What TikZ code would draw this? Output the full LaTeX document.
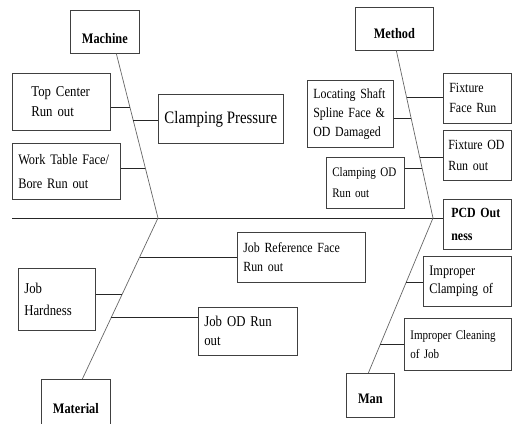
\documentclass[tikz,border=0pt]{standalone}
\usepackage{fontspec}
\setmainfont{Liberation Serif}[FakeStretch=0.85]
\usetikzlibrary{calc}

\begin{document}
\begin{tikzpicture}[
  x=1pt,y=-1pt,
  cause/.style={draw=black!75,line width=0.7pt,anchor=north west,align=left,inner xsep=6pt,inner ysep=0pt,font=\fontsize{14}{20}\selectfont},
  head/.style={draw=black!75,line width=0.7pt,anchor=north west,align=center,inner sep=0pt,font=\fontsize{14.5}{18}\selectfont\bfseries},
  bone/.style={black!60,line width=0.7pt},
  twig/.style={black!85,line width=0.7pt},
]
\useasboundingbox (0,0) rectangle (513,423);
% category heads
\node[head,minimum width=69pt,text height=33pt,text depth=10pt] (machine) at (70,10) {Machine};
\node[head,minimum width=78pt,text height=31pt,text depth=12pt] (method) at (355,7) {Method};
\node[head,minimum width=69pt,text height=34pt,text depth=12pt] (material) at (41,379) {Material};
\node[head,minimum width=48pt,text height=30pt,text depth=14pt] (man) at (346,373) {Man};
% effect
\node[cause,inner xsep=8pt,text width=52pt,minimum height=50pt,font=\fontsize{14}{23}\selectfont\bfseries] (pcd) at (443,199) {PCD Out\\ness};
% causes
\node[cause,text width=60pt,minimum width=98pt,minimum height=57pt,font=\fontsize{15}{20}\selectfont] (topc) at (12,73) {Top Center\\Run out};
\node[cause,minimum width=125pt,minimum height=49pt,font=\fontsize{17.5}{20}\selectfont] (clamp) at (158,94) {Clamping Pressure};
\node[cause,text width=96pt,minimum height=56pt,font=\fontsize{14.5}{24}\selectfont] (worktab) at (12,143) {Work Table Face/\\Bore Run out};
\node[cause,text width=74pt,minimum height=67pt,font=\fontsize{14}{19}\selectfont] (locshaft) at (307,80) {Locating Shaft\\Spline Face \&\\OD Damaged};
\node[cause,text width=56pt,minimum height=50pt] (fixface) at (443,73) {Fixture\\Face Run};
\node[cause,inner xsep=5pt,text width=58pt,minimum height=50pt,font=\fontsize{14}{21}\selectfont] (fixod) at (443,130) {Fixture OD\\Run out};
\node[cause,text width=66pt,minimum height=51pt,font=\fontsize{13}{21}\selectfont] (clampod) at (326,157) {Clamping OD\\Run out};
\node[cause,text width=116pt,minimum height=50pt,font=\fontsize{14}{19}\selectfont] (jobref) at (237,232) {Job Reference Face\\Run out};
\node[cause,text width=65pt,minimum height=62pt,font=\fontsize{15}{22}\selectfont] (hardness) at (18,268) {Job\\Hardness};
\node[cause,text width=87pt,minimum height=48pt,font=\fontsize{15}{19}\selectfont] (jobod) at (198,307) {Job OD Run\\out};
\node[cause,text width=76pt,minimum height=50pt,font=\fontsize{14.5}{18}\selectfont] (impclamp) at (423,256) {Improper\\Clamping of};
\node[cause,text width=95pt,minimum height=52pt,font=\fontsize{13}{19}\selectfont] (impclean) at (404,318) {Improper Cleaning\\of Job};
% spine and bones
\coordinate (sp0) at (12,218);
\coordinate (j1) at (158,218);
\coordinate (j2) at (433,218);
\coordinate (mtop) at ([xshift=11.5pt]machine.south);
\coordinate (metop) at ([xshift=2pt]method.south);
\coordinate (mabot) at ([xshift=6.5pt]material.north);
\coordinate (manbot) at ([xshift=-2pt]man.north);
\draw[twig] (sp0) -- (sp0 -| pcd.west);
\draw[bone] (mtop) -- (j1) -- (mabot);
\draw[bone] (metop) -- (j2) -- (manbot);
% points on the bones
\coordinate (b1) at ($(mtop)!0.327!(j1)$);
\coordinate (b2) at ($(mtop)!0.406!(j1)$);
\coordinate (b3) at ($(mtop)!0.697!(j1)$);
\coordinate (b4) at ($(metop)!0.28!(j2)$);
\coordinate (b5) at ($(metop)!0.405!(j2)$);
\coordinate (b6) at ($(metop)!0.637!(j2)$);
\coordinate (b7) at ($(metop)!0.702!(j2)$);
\coordinate (b8) at ($(j1)!0.242!(mabot)$);
\coordinate (b9) at ($(j1)!0.472!(mabot)$);
\coordinate (b10) at ($(j1)!0.615!(mabot)$);
\coordinate (b11) at ($(j2)!0.413!(manbot)$);
\coordinate (b12) at ($(j2)!0.813!(manbot)$);
% branches
\draw[twig] (b1 -| topc.east) -- (b1);
\draw[twig] (b2) -- (b2 -| clamp.west);
\draw[twig] (b3 -| worktab.east) -- (b3);
\draw[twig] (b4) -- (b4 -| fixface.west);
\draw[twig] (b5 -| locshaft.east) -- (b5);
\draw[twig] (b6) -- (b6 -| fixod.west);
\draw[twig] (b7 -| clampod.east) -- (b7);
\draw[twig] (b8) -- (b8 -| jobref.west);
\draw[twig] (b9 -| hardness.east) -- (b9);
\draw[twig] (b10) -- (b10 -| jobod.west);
\draw[twig] (b11) -- (b11 -| impclamp.west);
\draw[twig] (b12) -- (b12 -| impclean.west);
\end{tikzpicture}
\end{document}
